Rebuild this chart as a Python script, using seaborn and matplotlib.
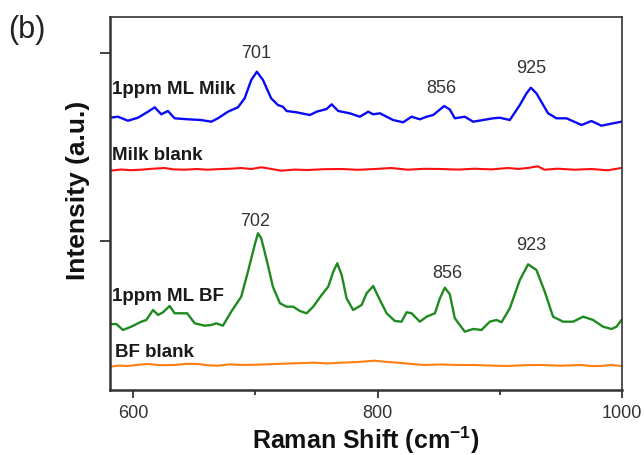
import matplotlib
matplotlib.use("Agg")
import matplotlib.pyplot as plt
import seaborn as sns
import pandas as pd
from matplotlib.ticker import FixedLocator

# ---- data (arbitrary intensity units) ----
milk_x = [581, 587.5, 595.7, 603.9, 612.1, 617.6, 623.0, 628.4, 633.9, 644.8, 655.4, 663.9,
          669.3, 677.5, 685.7, 691.2, 696.6, 701.2, 706.2, 712.9, 718.4, 722.5, 725.5, 733.7,
          744.6, 750.1, 758.3, 762.4, 767.8, 777.3, 785.5, 792.3, 796.4, 801.9, 812.7, 820.9,
          827.8, 834.6, 840.1, 845.5, 854.5, 859.1, 863.2, 871.4, 878.2, 886.4, 894.5, 900.0,
          908.2, 916.4, 921.9, 925.4, 930.0, 939.5, 946.4, 954.6, 966.9, 975.0, 983.2, 992.7, 999.6]
milk_y = [272.3, 273.3, 269.3, 272.3, 278.3, 282.7, 275.7, 279.0, 271.7, 270.7, 270.0, 268.3,
          271.7, 278.3, 282.7, 291.7, 310.0, 318.3, 310.0, 291.7, 285.0, 283.3, 279.0, 277.7,
          275.0, 278.3, 281.0, 285.7, 279.0, 276.7, 273.3, 278.3, 275.7, 276.7, 270.0, 267.7,
          273.3, 270.7, 273.3, 275.0, 284.0, 280.5, 271.7, 273.3, 268.3, 270.0, 271.7, 272.3,
          270.0, 285.0, 296.7, 302.3, 296.7, 276.7, 271.7, 271.7, 265.0, 269.0, 264.3, 266.7, 268.3]

milk_blank_x = [581, 590, 598, 606.4, 615, 625.7, 633, 642.1, 652, 661.2, 670, 680, 688.4,
                696.6, 704.8, 712, 721.1, 732, 743, 756, 770.2, 784, 797.5, 811.1, 824.8,
                838, 852, 866, 879.3, 893, 906.6, 915, 922.9, 931.1, 936.6, 947.5, 961.1,
                975, 988.4, 999.3]
milk_blank_y = [219.3, 220.5, 219.8, 220.3, 221.2, 222.0, 220.6, 220.3, 221.0, 220.3, 220.9,
                221.3, 222.0, 221.0, 222.7, 221.3, 219.3, 220.4, 220.0, 220.8, 221.0, 220.2,
                221.0, 222.0, 220.3, 221.2, 221.0, 220.4, 221.3, 220.6, 222.0, 221.1, 222.0,
                223.7, 220.3, 221.3, 220.3, 221.0, 219.7, 222.0]

bf_x = [581, 586.2, 591.6, 598.4, 606.6, 610.7, 616.2, 620.3, 624.4, 629.8, 633.9, 639.3,
        644.2, 650.3, 658.5, 663.9, 668.0, 673.4, 680.2, 688.4, 693.9, 699.4, 702.1, 704.8,
        710.2, 714.3, 720.1, 725.5, 730.9, 736.4, 741.9, 747.3, 754.2, 759.6, 763.7, 767.0,
        770.6, 774.6, 780.0, 786.9, 791.0, 796.4, 801.9, 807.4, 814.1, 819.6, 823.7, 827.8,
        834.6, 840.1, 846.9, 851.0, 855.0, 859.1, 863.2, 871.4, 878.2, 885.0, 891.8, 897.3,
        901.4, 908.2, 916.4, 923.2, 930.0, 936.8, 943.6, 951.8, 960.0, 968.2, 976.4, 984.5,
        991.4, 995.5, 999.6]
bf_y = [65.7, 66.0, 60.0, 63.3, 68.3, 70.0, 80.0, 75.0, 77.7, 84.0, 76.7, 76.7,
        76.7, 66.7, 64.3, 65.0, 66.7, 64.3, 78.3, 93.3, 118.3, 145.0, 156.7, 151.7,
        125.0, 103.3, 86.7, 83.3, 83.3, 79.0, 76.7, 83.3, 95.0, 103.3, 118.3, 126.7,
        115.0, 91.7, 80.0, 85.0, 96.7, 104.0, 90.0, 76.7, 69.0, 68.3, 77.7, 76.7,
        68.3, 73.3, 76.7, 91.7, 102.3, 95.8, 71.7, 58.3, 61.0, 60.0, 68.3, 70.0,
        67.7, 81.7, 110.0, 125.7, 120.0, 98.3, 73.3, 68.3, 68.3, 73.3, 70.0, 63.3,
        61.0, 63.3, 70.0]

bf_blank_x = [581, 588, 595.7, 604, 612.1, 622, 633.9, 643, 653, 661, 669.3, 679, 688.4,
              702, 715.7, 730, 748.4, 759, 770.2, 784, 797.5, 806, 816.6, 828, 838.4,
              852, 866, 879.3, 893, 906.6, 920, 933.8, 950, 966.5, 975, 982.9, 991, 999.3]
bf_blank_y = [23.3, 24.4, 24.0, 25.2, 26.0, 24.8, 25.0, 26.1, 26.0, 24.7, 24.3, 25.6, 25.0,
              25.3, 26.0, 26.6, 27.3, 26.5, 27.3, 28.0, 29.3, 28.2, 27.3, 26.0, 25.0,
              25.5, 25.0, 25.0, 24.4, 24.0, 24.8, 25.0, 24.3, 25.0, 24.0, 24.0, 25.0, 24.0]

series_labels = ["1ppm ML Milk", "Milk blank", "1ppm ML BF", "BF blank"]
peak_labels = ["701", "856", "925", "702", "856", "923"]
peak_pos_x = [701, 852, 926, 700, 857, 926]
peak_pos_y = [337, 302, 322, 168, 116, 144]
x_ticks = [600, 800, 1000]

# ---- plot ----
sns.set_theme(style="white")
plt.rcParams["font.family"] = ["Liberation Sans", "DejaVu Sans"]
plt.rcParams["mathtext.fontset"] = "custom"
plt.rcParams["mathtext.rm"] = "Liberation Sans:bold"
plt.rcParams["mathtext.bf"] = "Liberation Sans:bold"
plt.rcParams["mathtext.it"] = "Liberation Sans:bold"

fig = plt.figure(figsize=(6.44, 4.55), dpi=100)
ax = fig.add_axes([0.1708, 0.1429, 0.7950, 0.8197])

specs = [
    (milk_x, milk_y, "#0a0af5", 1.7),
    (milk_blank_x, milk_blank_y, "#ff1010", 1.5),
    (bf_x, bf_y, "#1f8a1f", 1.7),
    (bf_blank_x, bf_blank_y, "#ff8010", 1.5),
]
for xs, ys, col, lw in specs:
    df = pd.DataFrame({"x": xs, "y": ys})
    sns.lineplot(data=df, x="x", y="y", ax=ax, color=col, linewidth=lw,
                 estimator=None, sort=False)

ax.set_xlim(581, 1000)
ax.set_ylim(0, 373)

# series labels
lab_pos = [(583, 301), (583, 235), (583, 93), (585, 37)]
for (lx, ly), txt in zip(lab_pos, series_labels):
    ax.text(lx, ly, txt, fontsize=13.5, fontweight="bold", color="#1a1a1a",
            ha="left", va="center")

for txt, px, py in zip(peak_labels, peak_pos_x, peak_pos_y):
    ax.text(px, py, txt, fontsize=13, color="#333333", ha="center", va="center")

ax.xaxis.set_major_locator(FixedLocator(x_ticks))
ax.xaxis.set_minor_locator(FixedLocator([700, 900]))
ax.yaxis.set_major_locator(FixedLocator([149, 337]))
ax.set_yticklabels([])
ax.set_xticklabels([str(t) for t in x_ticks])
ax.tick_params(axis="x", which="major", direction="out", length=6, width=1.3,
               colors="#333333", labelsize=13, pad=5, bottom=True)
ax.tick_params(axis="x", which="minor", direction="out", length=3.5, width=1.3,
               colors="#333333", bottom=True)
ax.tick_params(axis="y", which="major", direction="out", length=7, width=1.3,
               colors="#333333", left=True)

for side, lw in [("left", 1.8), ("bottom", 1.8), ("top", 1.2), ("right", 1.2)]:
    ax.spines[side].set_visible(True)
    ax.spines[side].set_color("#333333")
    ax.spines[side].set_linewidth(lw)

ax.set_xlabel(r"Raman Shift (cm$^{\mathbf{-1}}$)", fontsize=18, fontweight="bold",
              color="#111111", labelpad=2)
ax.set_ylabel("Intensity (a.u.)", fontsize=19, fontweight="bold",
              color="#111111", labelpad=4)
ax.yaxis.label.set_y(0.535)

fig.text(0.012, 0.935, "(b)", fontsize=22, color="#222222", ha="left", va="center")

fig.savefig("out.png", dpi=100)
